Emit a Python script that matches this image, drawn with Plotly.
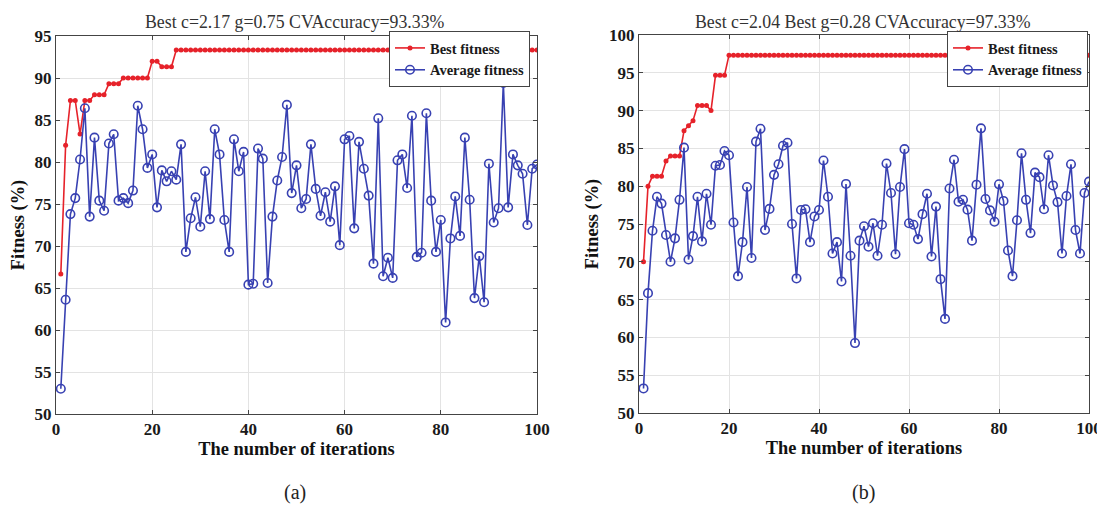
import plotly.graph_objects as go

iterations = list(range(1, 101))

best_a = [66.67, 82.0, 87.33, 87.33, 83.33, 87.33, 87.33, 88.0, 88.0, 88.0,
          89.33, 89.33, 89.33, 90.0, 90.0, 90.0, 90.0, 90.0, 90.0, 92.0,
          92.0, 91.33, 91.33, 91.33, 93.33, 93.33, 93.33, 93.33, 93.33, 93.33,
          93.33, 93.33, 93.33, 93.33, 93.33, 93.33, 93.33, 93.33, 93.33, 93.33,
          93.33, 93.33, 93.33, 93.33, 93.33, 93.33, 93.33, 93.33, 93.33, 93.33,
          93.33, 93.33, 93.33, 93.33, 93.33, 93.33, 93.33, 93.33, 93.33, 93.33,
          93.33, 93.33, 93.33, 93.33, 93.33, 93.33, 93.33, 93.33, 93.33, 93.33,
          93.33, 93.33, 93.33, 93.33, 93.33, 93.33, 93.33, 93.33, 93.33, 93.33,
          93.33, 93.33, 93.33, 93.33, 93.33, 93.33, 93.33, 93.33, 93.33, 93.33,
          93.33, 93.33, 93.33, 93.33, 93.33, 93.33, 93.33, 93.33, 93.33, 93.33]

avg_a = [53.0, 63.6, 73.8, 75.7, 80.3, 86.4, 73.5, 82.9, 75.4, 74.2,
         82.2, 83.3, 75.4, 75.7, 75.1, 76.6, 86.7, 83.9, 79.3, 80.9,
         74.6, 79.0, 77.7, 78.9, 77.9, 82.1, 69.3, 73.3, 75.8, 72.3,
         78.9, 73.2, 83.9, 80.9, 73.1, 69.3, 82.7, 78.9, 81.2, 65.4,
         65.5, 81.6, 80.4, 65.6, 73.5, 77.8, 80.6, 86.8, 76.3, 79.6,
         74.5, 75.6, 82.1, 76.8, 73.6, 76.4, 72.9, 77.1, 70.1, 82.7,
         83.1, 72.1, 82.4, 79.2, 76.0, 67.9, 85.2, 66.4, 68.6, 66.2,
         80.2, 80.9, 76.9, 85.5, 68.7, 69.2, 85.8, 75.4, 69.3, 73.1,
         60.9, 70.9, 75.9, 71.2, 82.9, 75.5, 63.8, 68.8, 63.3, 79.8,
         72.8, 74.5, 89.4, 74.6, 80.9, 79.6, 78.6, 72.5, 79.2, 79.7]

best_b = [70.0, 80.0, 81.33, 81.33, 81.33, 83.33, 84.0, 84.0, 84.0, 87.33,
          88.0, 88.67, 90.67, 90.67, 90.67, 90.0, 94.67, 94.67, 94.67, 97.33,
          97.33, 97.33, 97.33, 97.33, 97.33, 97.33, 97.33, 97.33, 97.33, 97.33,
          97.33, 97.33, 97.33, 97.33, 97.33, 97.33, 97.33, 97.33, 97.33, 97.33,
          97.33, 97.33, 97.33, 97.33, 97.33, 97.33, 97.33, 97.33, 97.33, 97.33,
          97.33, 97.33, 97.33, 97.33, 97.33, 97.33, 97.33, 97.33, 97.33, 97.33,
          97.33, 97.33, 97.33, 97.33, 97.33, 97.33, 97.33, 97.33, 97.33, 97.33,
          97.33, 97.33, 97.33, 97.33, 97.33, 97.33, 97.33, 97.33, 97.33, 97.33,
          97.33, 97.33, 97.33, 97.33, 97.33, 97.33, 97.33, 97.33, 97.33, 97.33,
          97.33, 97.33, 97.33, 97.33, 97.33, 97.33, 97.33, 97.33, 97.33, 97.33]

avg_b = [53.25, 65.85, 74.1, 78.6, 77.7, 73.55, 70.0, 73.1, 78.2, 85.1,
         70.3, 73.4, 78.6, 72.7, 79.0, 74.9, 82.7, 82.8, 84.65, 84.1,
         75.2, 68.1, 72.6, 79.9, 70.5, 85.9, 87.6, 74.2, 77.0, 81.5,
         82.9, 85.35, 85.75, 75.0, 67.8, 76.85, 76.95, 72.6, 76.0, 76.85,
         83.4, 78.6, 71.1, 72.6, 67.4, 80.3, 70.8, 59.25, 72.8, 74.7,
         72.0, 75.1, 70.8, 74.9, 83.0, 79.1, 71.0, 79.9, 84.9, 75.1,
         74.9, 73.0, 76.3, 79.0, 70.7, 77.3, 67.7, 62.45, 79.7, 83.5,
         77.95, 78.2, 76.9, 72.8, 80.2, 87.65, 78.3, 76.8, 75.3, 80.25,
         78.05, 71.5, 68.1, 75.5, 84.35, 78.2, 73.8, 81.8, 81.2, 76.95,
         84.1, 80.1, 77.9, 71.1, 78.7, 82.9, 74.2, 71.1, 79.1, 80.6]

titles = ["Best c=2.17 g=0.75 CVAccuracy=93.33%",
          "Best c=2.04 Best g=0.28 CVAccuracy=97.33%"]
captions = ["(a)", "(b)"]
x_ticks = [0, 20, 40, 60, 80, 100]
y_ticks_a = [50, 55, 60, 65, 70, 75, 80, 85, 90, 95]
y_ticks_b = [50, 55, 60, 65, 70, 75, 80, 85, 90, 95, 100]
series_names = ["Best fitness", "Average fitness"]

# the page body has an 8px margin; the figure fills the rest of the window
OFF = 8
W, H = 1105 - OFF, 507 - OFF
FONT = "Liberation Serif"
RED = "#e6222a"
BLUE = "#3841b2"

def px_x(p):
    return (p - OFF) / W

def px_y(p):
    return 1 - (p - OFF) / H

fig = go.Figure()

panels = [
    dict(best=best_a, avg=avg_a, xa="x", ya="y", legend="legend",
         box=(56, 537, 36, 414), yr=[50, 95], yt=y_ticks_a,
         leg_right=530, leg_top=31, title_cx=295),
    dict(best=best_b, avg=avg_b, xa="x2", ya="y2", legend="legend2",
         box=(639, 1089, 35, 413), yr=[50, 100], yt=y_ticks_b,
         leg_right=1088, leg_top=31, title_cx=863),
]

for k, p in enumerate(panels):
    fig.add_trace(go.Scatter(
        x=iterations, y=p["best"], name=series_names[0], mode="lines+markers",
        line=dict(color=RED, width=1.6),
        marker=dict(symbol="circle", size=5, color=RED),
        xaxis=p["xa"], yaxis=p["ya"], legend=p["legend"]))
    fig.add_trace(go.Scatter(
        x=iterations, y=p["avg"], name=series_names[1], mode="lines+markers",
        line=dict(color=BLUE, width=1.6),
        marker=dict(symbol="circle-open", size=8.5, color=BLUE, line=dict(width=1.6)),
        xaxis=p["xa"], yaxis=p["ya"], legend=p["legend"]))

tickfont = dict(family=FONT, size=17, color="#1a1a1a", weight="bold")
titlefont = dict(family=FONT, size=18.4, color="#111111", weight="bold")

layout = dict(
    width=W, height=H,
    margin=dict(l=0, r=0, t=0, b=0, autoexpand=False),
    paper_bgcolor="white", plot_bgcolor="white",
    showlegend=True,
)

for k, p in enumerate(panels):
    l, r, t, b = p["box"]
    sfx = "" if k == 0 else "2"
    layout["xaxis" + sfx] = dict(
        domain=[px_x(l), px_x(r)], range=[0, 100], tickvals=x_ticks,
        anchor="y" + sfx, showline=True, mirror="ticks", linecolor="#444444",
        linewidth=1, ticks="inside", ticklen=4, tickcolor="#444444",
        showgrid=True, gridcolor="#e3e3e3", gridwidth=1, zeroline=False,
        tickfont=tickfont, automargin=False,
        title=dict(text="The number of iterations", font=titlefont, standoff=3))
    layout["yaxis" + sfx] = dict(
        domain=[px_y(b), px_y(t)], range=p["yr"], tickvals=p["yt"],
        anchor="x" + sfx, showline=True, mirror="ticks", linecolor="#444444",
        linewidth=1, ticks="inside", ticklen=4, tickcolor="#444444",
        showgrid=True, gridcolor="#e3e3e3", gridwidth=1, zeroline=False,
        tickfont=tickfont, automargin=False,
        title=dict(text="Fitness (%)", font=titlefont, standoff=5))
    layout["legend" + sfx] = dict(
        x=px_x(p["leg_right"]), xanchor="right", y=px_y(p["leg_top"]), yanchor="top",
        bgcolor="white", bordercolor="#444444", borderwidth=1,
        font=dict(family=FONT, size=14.5, color="#1a1a1a", weight="bold"),
        tracegroupgap=0, itemwidth=30)

fig.update_layout(**layout)

annotations = []
for k, p in enumerate(panels):
    cx = px_x(p["title_cx"])
    annotations.append(dict(
        text=titles[k], x=cx, y=px_y(22), xref="paper", yref="paper",
        xanchor="center", yanchor="middle", showarrow=False,
        font=dict(family=FONT, size=17.8, color="#333333")))
    annotations.append(dict(
        text=captions[k], x=cx, y=px_y(492), xref="paper", yref="paper",
        xanchor="center", yanchor="middle", showarrow=False,
        font=dict(family=FONT, size=20, color="#222222")))
fig.update_layout(annotations=annotations)

fig.write_html("out.html")
